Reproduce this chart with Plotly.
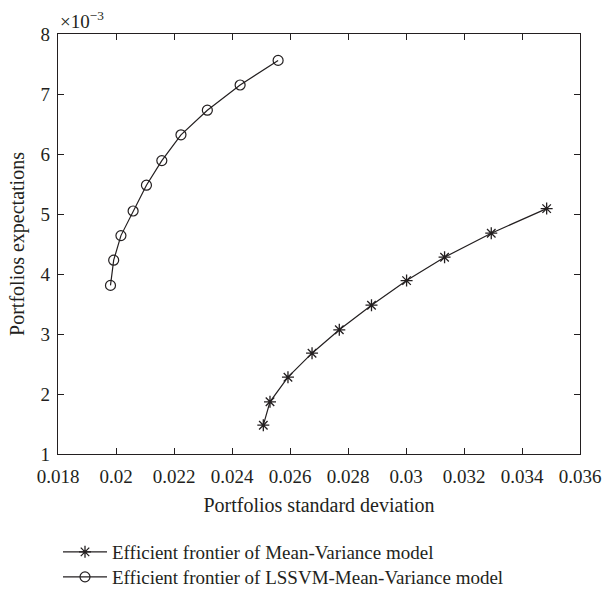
import plotly.graph_objects as go

# Efficient frontier of Mean-Variance model
mv_std = [0.02508, 0.02531, 0.02593, 0.02676, 0.02770, 0.02881, 0.03002, 0.03133, 0.03294, 0.03485]
mv_exp = [1.48, 1.87, 2.28, 2.68, 3.07, 3.48, 3.89, 4.28, 4.68, 5.09]  # x 10^-3

# Efficient frontier of LSSVM-Mean-Variance model
ls_std = [0.01981, 0.01992, 0.02017, 0.02059, 0.02105, 0.02158, 0.02224, 0.02315, 0.02428, 0.02559]
ls_exp = [3.81, 4.23, 4.64, 5.05, 5.48, 5.89, 6.32, 6.73, 7.15, 7.56]  # x 10^-3

x_ticks = [0.018, 0.020, 0.022, 0.024, 0.026, 0.028, 0.030, 0.032, 0.034, 0.036]
x_labels = ["0.018", "0.02", "0.022", "0.024", "0.026", "0.028", "0.03", "0.032", "0.034", "0.036"]
y_ticks = [1, 2, 3, 4, 5, 6, 7, 8]
y_labels = ["1", "2", "3", "4", "5", "6", "7", "8"]

FONT = "Liberation Serif"
C = "#231f20"

fig = go.Figure()
fig.add_trace(go.Scatter(
    x=mv_std, y=mv_exp, mode="lines+markers",
    name="Efficient frontier of Mean-Variance model",
    legend="legend",
    line=dict(color=C, width=1.2),
    marker=dict(symbol="asterisk-open", size=10, color=C, line=dict(color=C, width=1.3)),
))
fig.add_trace(go.Scatter(
    x=ls_std, y=ls_exp, mode="lines+markers",
    name="Efficient frontier of LSSVM-Mean-Variance model",
    legend="legend2",
    line=dict(color=C, width=1.2),
    marker=dict(symbol="circle-open", size=10, color=C, line=dict(color=C, width=1.2)),
))

axis_common = dict(
    showgrid=False, zeroline=False, showline=True, linecolor=C, linewidth=1.3,
    mirror="ticks", ticks="inside", ticklen=6, tickcolor=C, tickwidth=1,
    tickfont=dict(family=FONT, size=19, color=C),
)
fig.update_xaxes(range=[0.018, 0.036], tickvals=x_ticks, ticktext=x_labels,
                 ticklabelstandoff=5,
                 title=dict(text="Portfolios standard deviation", font=dict(family=FONT, size=20, color=C), standoff=12),
                 **axis_common)
fig.update_yaxes(range=[1, 8], tickvals=y_ticks, ticktext=y_labels,
                 ticklabelstandoff=3,
                 title=dict(text="Portfolios expectations", font=dict(family=FONT, size=20, color=C), standoff=10),
                 **axis_common)

fig.add_annotation(xref="paper", yref="paper", x=0, y=1, xanchor="left", yanchor="bottom",
                   text="×10<sup>−3</sup>", showarrow=False, yshift=0, xshift=0,
                   font=dict(family=FONT, size=19, color=C))

legend_common = dict(x=0.0, xref="paper", yref="container", xanchor="left", yanchor="middle",
                     font=dict(family=FONT, size=19, color=C), itemwidth=44,
                     bgcolor="rgba(0,0,0,0)")

fig.update_layout(
    width=613, height=590,
    margin=dict(l=58, r=26, t=34, b=136),
    paper_bgcolor="white", plot_bgcolor="white",
    showlegend=True,
    legend=dict(y=1 - 552 / 590, **legend_common),
    legend2=dict(y=1 - 577 / 590, **legend_common),
    font=dict(family=FONT, color=C),
)

fig.write_html("out.html")
